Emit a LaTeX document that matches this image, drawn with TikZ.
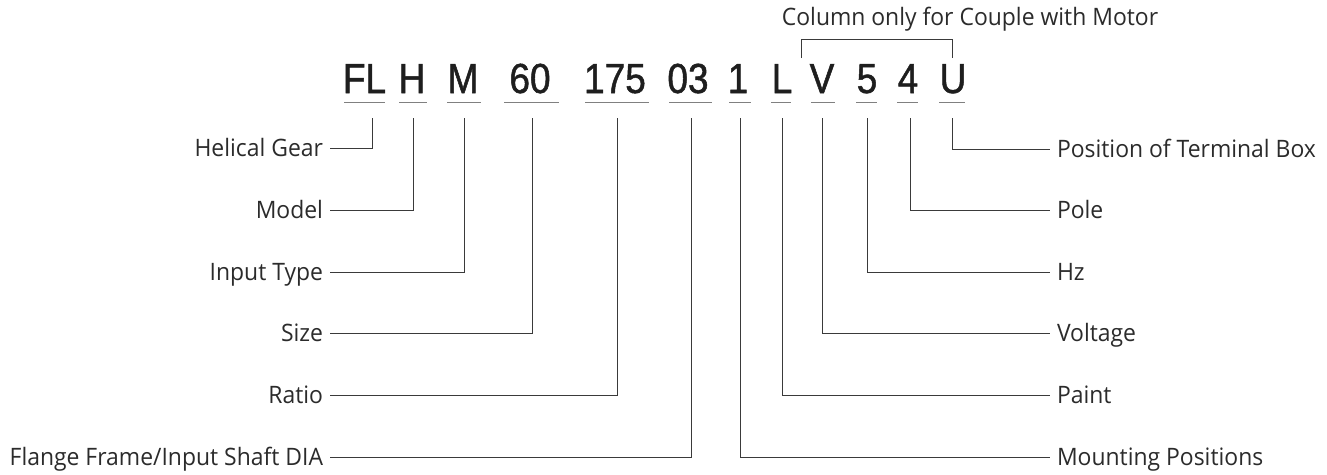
\documentclass[tikz,border=0pt]{standalone}
\usepackage{fontspec}
\setmainfont[FakeStretch=0.955]{Open Sans}
\newfontfamily\codefont[FakeStretch=0.88,FakeBold=1.2]{Liberation Sans}
\definecolor{ink}{HTML}{1E1E1E}
\definecolor{labelink}{HTML}{2B2B2B}
\definecolor{wire}{HTML}{3A3A3A}
\definecolor{rule}{HTML}{808080}
\begin{document}
\begin{tikzpicture}[x=1pt,y=-1pt,
  code/.style={anchor=base,inner sep=0pt,text=ink,font=\codefont\fontsize{42}{42}\selectfont},
  lbl/.style={inner sep=0pt,text height=17.5pt,text depth=0pt,outer xsep=7pt,text=labelink,font=\fontsize{24}{24}\selectfont},
  lleft/.style={lbl,anchor=east},
  lright/.style={lbl,anchor=west},
  uline/.style={draw=rule,line width=1.6pt},
  wire/.style={draw=wire,line width=0.9pt}]
\useasboundingbox (0,0) rectangle (1327,474);

% order code characters
\node[code] (cFL)  at (364.5,93) {FL};
\node[code] (cH)   at (412,93)   {H};
\node[code] (cM)   at (463,93)   {M};
\node[code] (c60)  at (530,93)   {60};
\node[code] (c175) at (615,93)   {175};
\node[code] (c03)  at (688,93)   {03};
\node[code] (c1)   at (738,93)   {1};
\node[code] (cL)   at (782,93)   {L};
\node[code] (cV)   at (822,93)   {V};
\node[code] (c5)   at (867,93)   {5};
\node[code] (c4)   at (908,93)   {4};
\node[code] (cU)   at (953,93)   {U};

% underlines below each field
\foreach \a/\b in {344/385,399/427,447/481,504/559,585/649,669/712,729/751,771/791,811/835,856/877,897/918,939/965}
  \draw[uline] (\a,102.5) -- (\b,102.5);

% tops of the leader lines
\coordinate (tFL)  at (372,118);
\coordinate (tH)   at (413,118);
\coordinate (tM)   at (464,118);
\coordinate (t60)  at (532,118);
\coordinate (t175) at (617,118);
\coordinate (t03)  at (691,118);
\coordinate (t1)   at (740,118);
\coordinate (tL)   at (782,118);
\coordinate (tV)   at (822,118);
\coordinate (t5)   at (867,118);
\coordinate (t4)   at (910,118);
\coordinate (tU)   at (952,118);

% field descriptions, left side
\node[lleft] (helical) at (330,148) {Helical Gear};
\node[lleft] (model)   at (330,210) {Model};
\node[lleft] (input)   at (330,272) {Input Type};
\node[lleft] (size)    at (330,333) {Size};
\node[lleft] (ratio)   at (330,395) {Ratio};
\node[lleft] (flange)  at (330,457) {Flange Frame/Input Shaft DIA};

% field descriptions, right side
\node[lright] (terminal) at (1050,149) {Position of Terminal Box};
\node[lright] (pole)     at (1050,210) {Pole};
\node[lright] (hz)       at (1050,272) {Hz};
\node[lright] (voltage)  at (1050,333) {Voltage};
\node[lright] (paint)    at (1050,395) {Paint};
\node[lright] (mounting) at (1050,457) {Mounting Positions};

% leader lines
\draw[wire] (tFL)  |- (helical.east);
\draw[wire] (tH)   |- (model.east);
\draw[wire] (tM)   |- (input.east);
\draw[wire] (t60)  |- (size.east);
\draw[wire] (t175) |- (ratio.east);
\draw[wire] (t03)  |- (flange.east);
\draw[wire] (t1)   |- (mounting.west);
\draw[wire] (tL)   |- (paint.west);
\draw[wire] (tV)   |- (voltage.west);
\draw[wire] (t5)   |- (hz.west);
\draw[wire] (t4)   |- (pole.west);
\draw[wire] (tU)   |- (terminal.west);

% bracket over the motor fields
\node[anchor=base,inner sep=0pt,text=labelink,font=\fontsize{24}{24}\selectfont] (column) at (970,25) {Column only for Couple with Motor};
\coordinate (bl) at (801,58);
\coordinate (br) at (952,58);
\draw[wire] (bl) -- (801,39) -- (952,39) -- (br);
\end{tikzpicture}
\end{document}
